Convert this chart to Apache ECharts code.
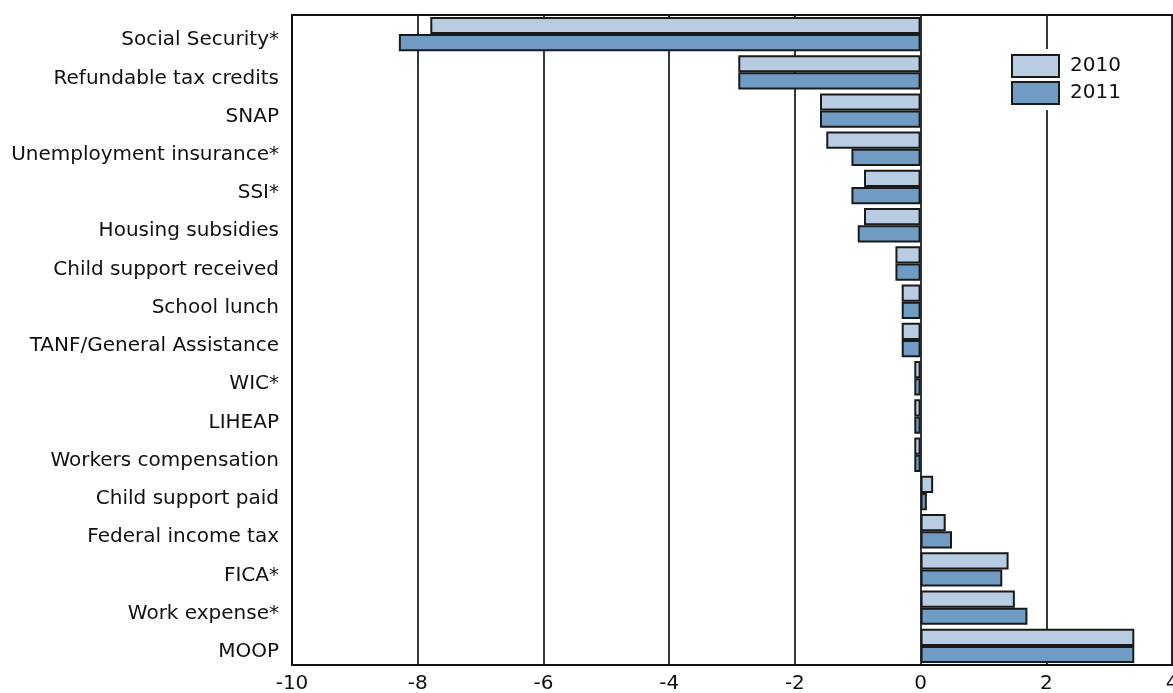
<!DOCTYPE html>
<html>
<head>
<meta charset="utf-8">
<script src="https://cdn.jsdelivr.net/npm/echarts@6/dist/echarts.min.js"></script>
<style>
html,body{margin:0;padding:0;background:#fff;}
#chart{width:1173px;height:693px;}
</style>
</head>
<body>
<div id="chart"></div>
<script>
var categories = ["Social Security*","Refundable tax credits","SNAP","Unemployment insurance*","SSI*","Housing subsidies","Child support received","School lunch","TANF/General Assistance","WIC*","LIHEAP","Workers compensation","Child support paid","Federal income tax","FICA*","Work expense*","MOOP"];
var values2010 = [-7.8,-2.9,-1.6,-1.5,-0.9,-0.9,-0.4,-0.3,-0.3,-0.1,-0.1,-0.1,0.2,0.4,1.4,1.5,3.4];
var values2011 = [-8.3,-2.9,-1.6,-1.1,-1.1,-1.0,-0.4,-0.3,-0.3,-0.1,-0.1,-0.1,0.1,0.5,1.3,1.7,3.4];
var seriesNames = ["2010","2011"];

var chart = echarts.init(document.getElementById('chart'), null, {renderer:'canvas'});
var font = "'DejaVu Sans', sans-serif";
chart.setOption({
  animation:false,
  backgroundColor:'#fff',
  grid:{left:292,right:1,top:15,bottom:28,show:true,borderColor:'#111',borderWidth:1.8,containLabel:false,outerBoundsMode:'none'},
  legend:{
    data:seriesNames,
    orient:'vertical',
    left:1006,top:49,
    padding:[5,8,5,5],
    backgroundColor:'#fff',
    itemWidth:47,itemHeight:22,itemGap:3,
    icon:'rect',
    textStyle:{fontFamily:font,fontSize:20,color:'#111',padding:[0,0,0,6],lineHeight:22}
  },
  xAxis:{
    type:'value',min:-10,max:4,interval:2,
    axisLine:{show:true,lineStyle:{color:'#111',width:1.8}},
    axisTick:{show:false},
    axisLabel:{fontFamily:font,fontSize:20,color:'#111',margin:9},
    splitLine:{show:true,lineStyle:{color:'#222',width:1.8}}
  },
  yAxis:{
    type:'category',data:categories,inverse:true,
    axisLine:{show:true,onZero:false,lineStyle:{color:'#111',width:1.8}},
    axisTick:{show:false},
    axisLabel:{fontFamily:font,fontSize:20,color:'#111',margin:13,verticalAlign:'top',lineHeight:12}
  },
  series:[
    {name:seriesNames[0],type:'bar',data:values2010,barGap:'0%',barCategoryGap:'10%',
     itemStyle:{color:'#b9cde2',borderColor:'#1a1a1a',borderWidth:2}},
    {name:seriesNames[1],type:'bar',data:values2011,barGap:'0%',barCategoryGap:'10%',
     itemStyle:{color:'#709bc3',borderColor:'#1a1a1a',borderWidth:2}}
  ]
});
</script>
</body>
</html>
